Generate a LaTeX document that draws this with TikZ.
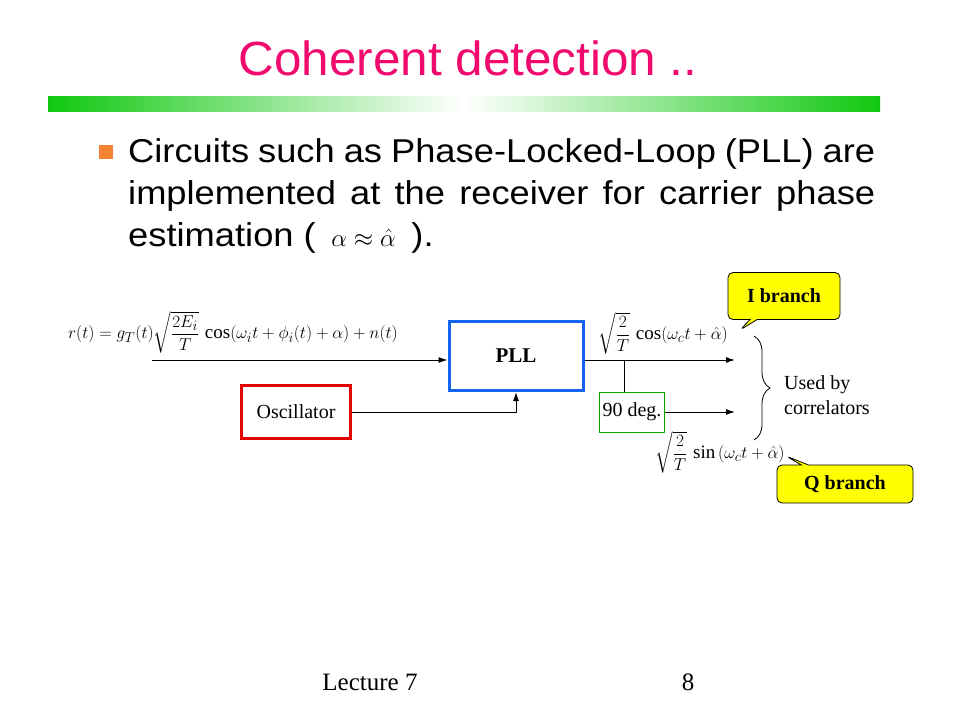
\documentclass[tikz,border=0pt]{standalone}
\usepackage{amsmath}
\usepackage{fontspec}
\setmainfont{Liberation Serif}
\newfontfamily\titlefont[FakeStretch=1.03]{Liberation Sans}
\newfontfamily\slidefont[FakeStretch=1.1]{Liberation Sans}
\usetikzlibrary{arrows.meta,shapes.callouts,decorations.pathreplacing}
\definecolor{titlepink}{RGB}{240,10,110}
\definecolor{bargreen}{RGB}{16,200,16}
\definecolor{bulletorange}{RGB}{245,130,50}
\definecolor{pllblue}{RGB}{20,100,240}
\definecolor{oscred}{RGB}{230,0,0}
\definecolor{boxgreen}{RGB}{0,170,0}
\definecolor{tagyellow}{RGB}{255,255,0}

\begin{document}
\begin{tikzpicture}[x=1pt,y=-1pt,
    sig/.style={-{Latex[length=9pt,width=6pt]},line width=1pt},
    blk/.style={draw,inner sep=0pt,font=\fontsize{20}{24}\selectfont},
    tag/.style={rectangle callout,draw,fill=tagyellow,rounded corners=5pt,line width=0.8pt,
      inner sep=0pt,font=\fontsize{20}{24}\selectfont\bfseries}]
	\useasboundingbox (0,0) rectangle (960,720);

	\node (title) [anchor=base,text=titlepink,font=\titlefont\fontsize{48}{56}\selectfont] at (468,75) {Coherent detection ..};
	\shade[left color=bargreen,right color=bargreen,middle color=white] (48,96) rectangle (880,111);

	\fill[bulletorange] (99,145) rectangle (113,159);
	\begin{scope}[every node/.style={anchor=base west,inner sep=0pt,font=\slidefont\fontsize{33}{40}\selectfont}]
		\node (line1) at (128,162) {\makebox[747pt][s]{Circuits such as Phase-Locked-Loop (PLL) are}};
		\node (line2) at (128,204) {\makebox[747pt][s]{implemented at the receiver for carrier phase}};
		\node (line3) at (128,246) {estimation ( \,$\alpha\approx\hat{\alpha}$\, ).};
	\end{scope}

	\node (rin) [font=\fontsize{19}{23}\selectfont] at (233,332)
		{$r(t)=g_T(t)\sqrt{\dfrac{2E_i}{T}}\,\cos\!\left(\omega_i t+\phi_i(t)+\alpha\right)+n(t)$};
	\coordinate (start) at (152,360);
	\node (pll) [blk,draw=pllblue,line width=3pt,minimum width=134pt,minimum height=69pt,font=\fontsize{21}{24}\selectfont\bfseries] at (516,356) {PLL};
	\node (osc) [blk,draw=oscred,line width=3pt,minimum width=109pt,minimum height=53pt] at (296,412) {Oscillator};
	\node (deg) [blk,draw=boxgreen,line width=0.8pt,minimum width=65pt,minimum height=40pt] at (632,412) {90 deg.};
	\coordinate (tap) at (624,360);
	\coordinate (iout) at (735,360);

	\draw[sig] (start) -- (start -| pll.west);
	\draw[sig] (osc.east) -| (pll.south);
	\draw[sig] (pll.east |- start) -- (iout);
	\draw[line width=1pt] (tap) -- (tap |- deg.north);
	\draw[sig] (deg.east) -- (deg.east -| iout);

	\node (cosout) [font=\fontsize{19}{23}\selectfont] at (663,333) {$\sqrt{\dfrac{2}{T}}\,\cos\!\left(\omega_c t+\hat{\alpha}\right)$};
	\node (sinout) [font=\fontsize{19}{23}\selectfont] at (720,452) {$\sqrt{\dfrac{2}{T}}\,\sin\left(\omega_c t+\hat{\alpha}\right)$};

	\coordinate (btop) at (754,336);
	\coordinate (bbot) at (754,440);
	\draw[line width=0.8pt,decorate,decoration={brace,amplitude=16pt}] (btop) -- (bbot);
	\node (used) [anchor=west,align=left,inner sep=0pt,font=\fontsize{20}{25}\selectfont] at (784,395) {Used by\\correlators};

	\node (ibranch) [tag,minimum width=112pt,minimum height=47pt,callout absolute pointer={(740,330)}] at (784,296) {I branch};
	\node (qbranch) [tag,minimum width=136pt,minimum height=38pt,callout absolute pointer={(786,456)}] at (845,484) {Q branch};

	\node (lecture) [anchor=base,font=\fontsize{25}{30}\selectfont] at (370,690) {Lecture 7};
	\node (page) [anchor=base,font=\fontsize{25}{30}\selectfont] at (688,690) {8};
\end{tikzpicture}
\end{document}
